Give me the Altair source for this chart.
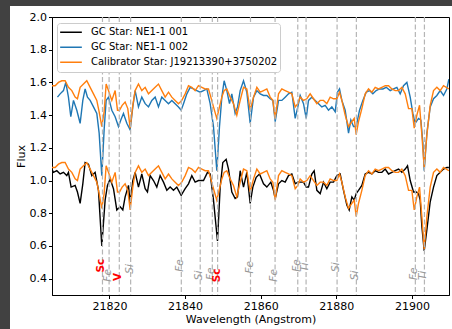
import altair as alt
import pandas as pd

LABEL_001 = "GC Star: NE1-1 001"
LABEL_002 = "GC Star: NE1-1 002"
LABEL_CAL = "Calibrator Star: J19213390+3750202"
OFFSET = 0.5  # vertical offset of the upper pair of spectra

# GC star NE1-1 001 (black, lower)
black_wl = [21804.74, 21805.19, 21806.07, 21806.95, 21807.83, 21808.71, 21809.15, 21809.86, 21810.92, 21811.53,
            21812.24, 21812.95, 21813.56, 21814.44, 21815.33, 21816.21, 21817.09, 21817.97, 21818.85, 21819.47,
            21820.18, 21821.06, 21821.94, 21822.82, 21823.53, 21824.14, 21825.03, 21825.47, 21826.17, 21826.79,
            21827.67, 21828.55, 21829.44, 21830.05, 21830.76, 21831.64, 21832.52, 21833.40, 21834.29, 21835.17,
            21836.05, 21836.93, 21837.81, 21838.96, 21840.02, 21840.90, 21841.78, 21842.66, 21843.54, 21844.87,
            21845.93, 21846.63, 21847.51, 21848.57, 21849.28, 21849.98, 21850.86, 21851.48, 21852.36, 21853.24,
            21853.86, 21854.57, 21855.45, 21856.33, 21857.21, 21857.92, 21858.80, 21859.68, 21860.74, 21861.62,
            21862.68, 21863.38, 21863.83, 21864.71, 21865.59, 21866.47, 21867.35, 21868.23, 21869.12, 21869.82,
            21870.44, 21871.32, 21872.03, 21872.64, 21873.52, 21874.14, 21874.85, 21875.73, 21876.61, 21877.49,
            21878.37, 21879.26, 21880.14, 21881.02, 21881.90, 21882.78, 21883.40, 21884.11, 21884.73, 21885.25,
            21885.87, 21886.75, 21887.63, 21888.52, 21889.40, 21890.28, 21891.16, 21892.04, 21892.93, 21893.81,
            21894.69, 21895.57, 21896.45, 21897.33, 21898.22, 21898.83, 21899.54, 21900.42, 21901.12, 21901.74,
            21902.18, 21902.62, 21903.24, 21903.95, 21904.83, 21905.71, 21906.59, 21907.47, 21908.35, 21909.23,
            21909.77]
black_flux = [1.07, 1.05, 1.06, 1.04, 1.05, 1.03, 1.05, 0.96, 0.97, 0.93,
              0.86, 0.98, 1.11, 1.10, 1.03, 1.05, 0.94, 0.60, 0.88, 0.97,
              1.01, 0.95, 0.82, 0.84, 0.82, 0.90, 0.97, 0.86, 1.00, 1.05,
              0.96, 1.04, 0.95, 0.93, 1.03, 1.00, 0.96, 1.03, 0.99, 0.94,
              0.96, 0.94, 0.96, 0.91, 0.95, 0.98, 1.03, 0.99, 1.00, 1.00,
              1.05, 1.04, 0.88, 0.63, 0.96, 1.11, 1.13, 1.07, 0.93, 0.89,
              0.90, 1.06, 0.96, 1.05, 0.86, 0.96, 1.02, 1.04, 0.98, 0.96,
              0.99, 0.94, 0.89, 0.98, 1.00, 0.99, 1.03, 1.04, 0.98, 0.99,
              0.99, 0.99, 0.96, 0.96, 1.04, 1.06, 0.94, 0.92, 0.99, 0.95,
              0.99, 0.99, 1.03, 1.04, 0.94, 0.85, 0.82, 0.90, 0.88, 0.92,
              0.94, 0.97, 1.04, 1.05, 1.04, 1.06, 1.05, 1.05, 1.07, 1.04,
              1.05, 1.06, 1.07, 1.05, 1.07, 1.09, 1.00, 0.93, 0.93, 0.92,
              0.88, 0.72, 0.57, 0.70, 0.87, 0.96, 1.03, 1.05, 1.07, 1.08,
              1.08]

# GC star NE1-1 002 (blue, drawn with +OFFSET)
blue_wl = [21806.24, 21806.95, 21807.83, 21808.45, 21809.15, 21809.77, 21810.48, 21811.36, 21812.24, 21812.95,
           21813.56, 21814.18, 21814.89, 21815.77, 21816.65, 21817.27, 21817.97, 21818.59, 21819.12, 21819.74,
           21820.62, 21821.50, 21822.38, 21823.00, 21823.70, 21824.59, 21825.47, 21826.17, 21826.79, 21827.67,
           21828.55, 21829.44, 21830.32, 21831.20, 21832.08, 21832.96, 21833.84, 21834.73, 21835.61, 21836.49,
           21837.37, 21838.25, 21838.96, 21839.58, 21840.46, 21841.34, 21842.22, 21843.10, 21843.98, 21844.87,
           21845.75, 21846.63, 21847.51, 21848.39, 21849.10, 21849.72, 21850.33, 21851.04, 21851.74, 21852.36,
           21853.24, 21853.86, 21854.57, 21855.45, 21856.33, 21857.21, 21858.10, 21858.98, 21859.86, 21860.74,
           21861.62, 21862.50, 21863.21, 21863.83, 21864.71, 21865.59, 21866.47, 21867.35, 21868.23, 21869.12,
           21869.82, 21870.44, 21871.32, 21872.03, 21872.64, 21873.52, 21874.41, 21875.29, 21876.17, 21877.05,
           21877.93, 21878.82, 21879.70, 21880.31, 21880.84, 21881.46, 21882.34, 21883.23, 21883.84, 21884.55,
           21885.25, 21886.14, 21887.02, 21887.90, 21888.78, 21889.66, 21890.54, 21891.43, 21892.31, 21893.19,
           21894.25, 21895.13, 21896.01, 21896.89, 21897.77, 21898.66, 21899.54, 21900.24, 21900.86, 21901.74,
           21902.36, 21902.89, 21903.24, 21903.95, 21904.83, 21905.71, 21906.59, 21907.47, 21908.35, 21909.23,
           21909.77]
blue_flux = [1.01, 1.03, 1.05, 1.10, 1.01, 0.89, 0.99, 0.93, 0.85, 0.99,
             1.06, 1.01, 0.99, 0.95, 0.91, 0.79, 0.53, 0.81, 0.99, 1.01,
             0.93, 0.89, 0.83, 0.87, 0.91, 0.85, 0.81, 0.95, 1.05, 0.95,
             1.01, 0.97, 0.95, 0.99, 1.01, 0.95, 1.01, 0.99, 0.97, 0.99,
             0.97, 0.95, 0.93, 0.97, 1.03, 1.07, 1.06, 1.05, 1.04, 1.05,
             1.06, 0.97, 0.83, 0.56, 0.83, 1.01, 1.11, 1.05, 0.97, 1.03,
             0.91, 0.95, 1.05, 1.11, 1.04, 0.85, 1.01, 1.05, 1.03, 1.02,
             1.02, 1.00, 0.99, 0.86, 0.99, 0.99, 1.01, 1.03, 1.04, 0.88,
             0.95, 1.02, 0.97, 0.88, 0.99, 1.01, 0.99, 0.97, 0.95, 0.96,
             0.93, 0.95, 0.92, 1.04, 1.06, 0.99, 0.93, 0.79, 0.87, 0.83,
             0.83, 0.93, 0.99, 1.04, 1.05, 1.03, 1.05, 1.06, 1.06, 1.07,
             1.05, 1.06, 1.07, 1.03, 1.08, 1.10, 1.01, 0.91, 0.85, 0.88,
             0.87, 0.73, 0.56, 0.79, 0.95, 1.00, 1.02, 1.05, 1.02, 1.06,
             1.12]

# Calibrator star (orange, drawn twice: as is and with +OFFSET)
cal_wl = [21804.74, 21805.63, 21806.51, 21807.39, 21808.27, 21809.15, 21810.04, 21810.92, 21811.53, 21812.24,
          21813.12, 21814.00, 21814.89, 21815.77, 21816.65, 21817.27, 21817.97, 21818.59, 21819.12, 21819.74,
          21820.62, 21821.50, 21822.12, 21822.65, 21823.35, 21824.14, 21824.85, 21825.47, 21826.17, 21826.79,
          21827.67, 21828.55, 21829.44, 21830.32, 21831.20, 21832.08, 21832.96, 21833.84, 21834.73, 21835.61,
          21836.49, 21837.37, 21838.25, 21839.13, 21840.02, 21840.90, 21841.78, 21842.66, 21843.54, 21844.43,
          21845.31, 21846.19, 21846.81, 21847.51, 21848.39, 21849.10, 21849.72, 21850.33, 21851.04, 21851.92,
          21852.80, 21853.68, 21854.57, 21855.45, 21856.33, 21857.21, 21858.10, 21858.98, 21859.86, 21860.74,
          21861.62, 21862.50, 21863.21, 21863.83, 21864.71, 21865.59, 21866.47, 21867.35, 21868.23, 21869.12,
          21869.82, 21870.44, 21871.32, 21872.20, 21873.08, 21873.97, 21874.85, 21875.73, 21876.61, 21877.49,
          21878.37, 21879.26, 21880.14, 21880.84, 21881.46, 21882.34, 21883.23, 21884.11, 21884.73, 21885.25,
          21885.87, 21886.75, 21887.63, 21888.52, 21889.40, 21890.28, 21891.16, 21892.04, 21892.93, 21893.81,
          21894.69, 21895.57, 21896.45, 21897.33, 21898.22, 21899.10, 21899.98, 21900.60, 21901.30, 21902.01,
          21902.62, 21903.24, 21903.95, 21904.83, 21905.71, 21906.59, 21907.47, 21908.35, 21909.77]
cal_flux = [1.08, 1.08, 1.10, 1.11, 1.11, 1.07, 1.05, 1.01, 1.00, 1.07,
            1.09, 1.11, 1.07, 1.03, 0.99, 0.92, 0.83, 0.92, 1.09, 1.05,
            0.99, 1.05, 0.93, 0.93, 0.96, 0.98, 0.94, 0.82, 0.96, 1.05,
            1.09, 1.05, 1.07, 1.03, 1.05, 1.07, 1.09, 1.05, 1.01, 1.04,
            1.01, 0.99, 0.97, 0.99, 1.03, 1.08, 1.07, 1.05, 1.08, 1.07,
            1.06, 1.06, 1.01, 0.95, 0.88, 0.95, 1.01, 1.05, 1.06, 1.01,
            0.97, 0.90, 0.99, 1.07, 1.06, 0.93, 1.01, 1.07, 1.04, 1.05,
            1.06, 1.01, 0.99, 0.88, 1.03, 1.06, 1.05, 1.04, 1.03, 0.95,
            0.97, 1.01, 0.99, 1.00, 1.03, 1.00, 0.97, 0.99, 0.99, 0.97,
            1.01, 1.00, 1.00, 1.04, 0.99, 0.90, 0.83, 0.86, 0.88, 0.78,
            0.86, 0.94, 1.03, 1.06, 1.04, 1.07, 1.06, 1.07, 1.08, 1.08,
            1.06, 1.05, 1.05, 1.07, 1.03, 0.94, 0.94, 0.82, 0.90, 0.96,
            0.78, 0.58, 0.78, 0.96, 1.05, 1.07, 1.05, 1.08, 1.06]

# Identified absorption lines
line_wl = [21818.15, 21819.9, 21822.6, 21825.6, 21839.0, 21844.0, 21847.2, 21848.6,
           21857.3, 21863.8, 21869.8, 21872.0, 21880.2, 21885.3, 21900.9, 21903.3]
line_label = ["Sc", "Fe", "V", "Si", "Fe", "Si", "Fe", "Sc",
              "Fe", "Fe", "Fe", "Ti", "Si", "Si", "Fe", "Ti"]
line_label_y = [0.48, 0.42, 0.41, 0.46, 0.48, 0.42, 0.43, 0.42,
                0.47, 0.42, 0.48, 0.47, 0.47, 0.42, 0.43, 0.42]
line_key = [True, False, True, False, False, False, False, True,
            False, False, False, False, False, False, False, False]

W, H = 397, 278
PAD_L, PAD_T, PAD_R, PAD_B = 52, 17, 3, 34
FONT = "DejaVu Sans"
BACKDROP = "#414141"

rows = []
for w, f in zip(black_wl, black_flux):
    rows.append({"wl": w, "flux": f, "series": LABEL_001, "grp": "a"})
for w, f in zip(blue_wl, blue_flux):
    rows.append({"wl": w, "flux": f + OFFSET, "series": LABEL_002, "grp": "b"})
for w, f in zip(cal_wl, cal_flux):
    rows.append({"wl": w, "flux": f, "series": LABEL_CAL, "grp": "c0"})
for w, f in zip(cal_wl, cal_flux):
    rows.append({"wl": w, "flux": f + OFFSET, "series": LABEL_CAL, "grp": "c1"})
spec = pd.DataFrame(rows)

lines_df = pd.DataFrame({"wl": line_wl, "label": line_label, "flux": line_label_y, "key": line_key})

xscale = alt.Scale(domain=[21804.8, 21909.8], nice=False, zero=False)
yscale = alt.Scale(domain=[0.3, 2.0], nice=False, zero=False)

xenc = alt.X("wl:Q", scale=xscale, title="Wavelength (Angstrom)",
             axis=alt.Axis(values=[21820, 21840, 21860, 21880, 21900], format="d", labelOverlap=False))
yenc = alt.Y("flux:Q", scale=yscale, title="Flux",
             axis=alt.Axis(values=[0.4, 0.6, 0.8, 1.0, 1.2, 1.4, 1.6, 1.8, 2.0], format=".1f",
                           labelOverlap=False))

color = alt.Color(
    "series:N",
    scale=alt.Scale(domain=[LABEL_001, LABEL_002, LABEL_CAL], range=["#000000", "#1f77b4", "#ff7f0e"]),
    legend=alt.Legend(
        title=None, orient="none", legendX=5, legendY=6,
        symbolType="stroke", symbolSize=470, symbolStrokeWidth=1.6,
        labelFont=FONT, labelFontSize=10, labelColor="#000000", labelOffset=8, labelLimit=0,
        fillColor="white", strokeColor="#cccccc", cornerRadius=3, padding=2, rowPadding=0,
        clipHeight=14.5,
    ),
)

# dark strips of the photographed backdrop outside the white figure
strip_left = alt.Chart(alt.Data(values=[{"k": 1}])).mark_rect(color=BACKDROP).encode(
    x=alt.value(-PAD_L), x2=alt.value(-PAD_L + 10), y=alt.value(-PAD_T), y2=alt.value(H + PAD_B))
strip_top = alt.Chart(alt.Data(values=[{"k": 1}])).mark_rect(color=BACKDROP).encode(
    x=alt.value(-PAD_L), x2=alt.value(W + PAD_R), y=alt.value(-PAD_T), y2=alt.value(-PAD_T + 6))

base = alt.Chart(spec)
layers = []
for lab in [LABEL_001, LABEL_002, LABEL_CAL]:
    layers.append(
        base.transform_filter(alt.datum.series == lab)
        .mark_line(strokeWidth=1.4, clip=True)
        .encode(x=xenc, y=yenc, color=color, detail="grp:N", order="wl:Q")
    )

rules = alt.Chart(lines_df).mark_rule(color="#b5b5b5", strokeDash=[5, 2.5], strokeWidth=1.2).encode(
    x=xenc)

gray_txt = alt.Chart(lines_df).transform_filter("!datum.key").mark_text(
    angle=270, font=FONT, fontSize=10.5, fontStyle="italic", color="#999999",
    align="center", baseline="middle", dy=-1).encode(
    x=xenc, y=yenc, text="label:N")

red_txt = alt.Chart(lines_df).transform_filter("datum.key").mark_text(
    angle=270, font=FONT, fontSize=10.5, fontWeight="bold", color="#ff0000",
    align="center", baseline="middle", dy=-1).encode(
    x=xenc, y=yenc, text="label:N")

chart = alt.layer(strip_left, strip_top, *layers, rules, gray_txt, red_txt).properties(
    width=W, height=H,
    autosize=alt.AutoSizeParams(type="none"),
    padding={"left": PAD_L, "top": PAD_T, "right": PAD_R, "bottom": PAD_B},
    background="white",
).configure_view(
    stroke="#000000", strokeWidth=1, fill="white"
).configure_axis(
    grid=False, domainColor="#000000", domainWidth=1, tickColor="#000000", tickSize=3.5, tickWidth=1,
    labelFont=FONT, labelFontSize=11, labelColor="#000000", labelPadding=2, labelOverlap=False,
    titleFont=FONT, titleFontSize=11, titleFontWeight="normal", titleColor="#000000",
).configure_axisX(titlePadding=2).configure_axisY(titlePadding=3)

chart.save("out.html", embed_options={"renderer": "svg", "actions": False})
